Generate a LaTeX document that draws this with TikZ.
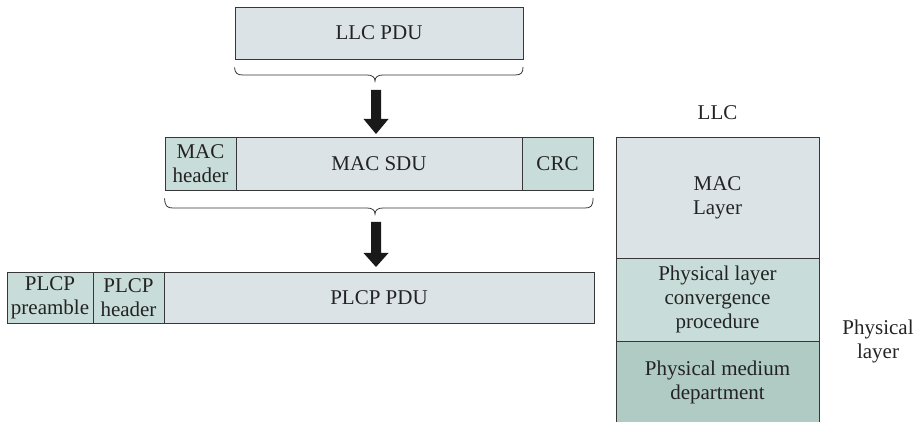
\documentclass[tikz,border=0pt]{standalone}
\usepackage{fontspec}
\setmainfont{Liberation Serif}
\definecolor{lightc}{RGB}{220,227,230}
\definecolor{midc}{RGB}{200,221,217}
\definecolor{darkc}{RGB}{176,202,196}
\definecolor{linec}{RGB}{55,55,55}
\definecolor{txtc}{RGB}{35,35,35}
\begin{document}
\begin{tikzpicture}[x=1pt,y=-1pt,
  box/.style={draw=linec, line width=0.9pt, inner sep=0pt, align=center,
    font=\fontsize{21}{24}\selectfont, text=txtc},
  lbl/.style={inner sep=0pt, align=center, font=\fontsize{21}{24}\selectfont, text=txtc},
  bracec/.style={draw=linec, line width=0.8pt},
  blockarrow/.style={fill=black!90}]
\useasboundingbox (0,0) rectangle (916,422);
\clip (0,0) rectangle (916,422);
% top: LLC PDU
\node[box, fill=lightc, minimum width=288pt, minimum height=52pt] (llc) at (379,33) {LLC PDU};
% MAC frame
\node[box, fill=midc, minimum width=71pt, minimum height=53pt] (machdr) at (200.5,163.5) {MAC\\header};
\node[box, fill=lightc, minimum width=286pt, minimum height=53pt] (macsdu) at (379,163.5) {MAC SDU};
\node[box, fill=midc, minimum width=71pt, minimum height=53pt] (crc) at (557.5,163.5) {CRC};
% PLCP frame
\node[box, fill=midc, minimum width=86pt, minimum height=51pt] (pre) at (50,297.5) {PLCP\\preamble};
\node[box, fill=midc, minimum width=71pt, minimum height=51pt] (phdr) at (128.5,297.5) {PLCP\\header};
\node[box, fill=lightc, minimum width=430pt, minimum height=51pt] (ppdu) at (379,297.5) {PLCP PDU};
% braces
\coordinate (b1tip) at (375,81);
\coordinate (b2tip) at (375,214);
\draw[bracec] (llc.south west) ++(0,8) .. controls (235,73) and (237,75) .. (243,75) -- (367,75)
  .. controls (372,75) and (375,77) .. (b1tip) .. controls (375,77) and (378,75) .. (383,75)
  -- (515,75) .. controls (521,75) and (523,73) .. (523,67);
\draw[bracec] (machdr.south west) ++(0,8) .. controls (165,206) and (167,208) .. (173,208) -- (367,208)
  .. controls (372,208) and (375,210) .. (b2tip) .. controls (375,210) and (378,208) .. (383,208)
  -- (585,208) .. controls (591,208) and (593,206) .. (593,198);
% block arrows
\fill[blockarrow] (371,90) -- (381,90) -- (381,119) -- (388.5,119) -- (376,134) -- (363.5,119) -- (371,119) -- cycle;
\fill[blockarrow] (371,222) -- (381,222) -- (381,253) -- (388.5,253) -- (376,267) -- (363.5,253) -- (371,253) -- cycle;
% layer stack
\node[lbl] (llclbl) at (717.5,113) {LLC};
\node[box, fill=lightc, minimum width=203pt, minimum height=121pt] (maclayer) at (717.5,197.5) {MAC\\Layer};
\node[box, fill=midc, minimum width=203pt, minimum height=83pt] (plcp) at (717.5,299.5) {Physical layer\\convergence\\procedure};
\node[box, fill=darkc, minimum width=203pt, minimum height=82pt] (pmd) at (717.5,382) {Physical medium\\department};
\node[lbl] (phys) at (878,341.5) {Physical\\layer};
\end{tikzpicture}
\end{document}
